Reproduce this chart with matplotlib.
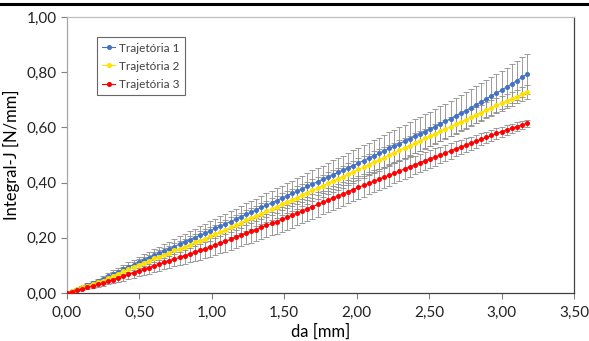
import matplotlib
matplotlib.use("Agg")
import matplotlib.pyplot as plt
from matplotlib.lines import Line2D
from matplotlib.ticker import FuncFormatter

# da [mm]
da = [0.000, 0.035, 0.071, 0.106, 0.141, 0.177, 0.212, 0.247, 0.282, 0.318,
      0.353, 0.388, 0.424, 0.459, 0.494, 0.530, 0.565, 0.600, 0.635, 0.671,
      0.706, 0.741, 0.777, 0.812, 0.847, 0.883, 0.918, 0.953, 0.988, 1.024,
      1.059, 1.094, 1.130, 1.165, 1.200, 1.236, 1.271, 1.306, 1.341, 1.377,
      1.412, 1.447, 1.483, 1.518, 1.553, 1.589, 1.624, 1.659, 1.694, 1.730,
      1.765, 1.800, 1.836, 1.871, 1.906, 1.942, 1.977, 2.012, 2.047, 2.083,
      2.118, 2.153, 2.189, 2.224, 2.259, 2.295, 2.330, 2.365, 2.400, 2.436,
      2.471, 2.506, 2.542, 2.577, 2.612, 2.648, 2.683, 2.718, 2.753, 2.789,
      2.824, 2.859, 2.895, 2.930, 2.965, 3.001, 3.036, 3.071, 3.106, 3.142,
      3.177]

# Integral-J [N/mm]
traj1 = [0.000, 0.007, 0.015, 0.022, 0.029, 0.037, 0.044, 0.051, 0.060, 0.069,
         0.077, 0.086, 0.094, 0.103, 0.112, 0.120, 0.128, 0.136, 0.144, 0.152,
         0.160, 0.168, 0.177, 0.185, 0.193, 0.201, 0.209, 0.217, 0.225, 0.234,
         0.242, 0.251, 0.259, 0.268, 0.276, 0.285, 0.293, 0.301, 0.310, 0.318,
         0.327, 0.335, 0.344, 0.352, 0.361, 0.369, 0.378, 0.386, 0.395, 0.403,
         0.412, 0.420, 0.429, 0.437, 0.445, 0.454, 0.462, 0.471, 0.480, 0.489,
         0.497, 0.506, 0.515, 0.524, 0.532, 0.541, 0.550, 0.559, 0.568, 0.576,
         0.585, 0.594, 0.603, 0.613, 0.622, 0.632, 0.642, 0.651, 0.661, 0.672,
         0.682, 0.693, 0.704, 0.714, 0.725, 0.735, 0.747, 0.758, 0.770, 0.782,
         0.793]
traj2 = [0.000, 0.006, 0.013, 0.020, 0.026, 0.033, 0.039, 0.045, 0.053, 0.062,
         0.070, 0.078, 0.086, 0.094, 0.103, 0.110, 0.117, 0.125, 0.132, 0.139,
         0.146, 0.154, 0.161, 0.168, 0.175, 0.183, 0.190, 0.197, 0.205, 0.213,
         0.221, 0.229, 0.238, 0.246, 0.254, 0.263, 0.271, 0.279, 0.287, 0.296,
         0.304, 0.312, 0.321, 0.329, 0.338, 0.346, 0.355, 0.363, 0.372, 0.380,
         0.389, 0.397, 0.406, 0.414, 0.422, 0.431, 0.439, 0.448, 0.456, 0.465,
         0.474, 0.482, 0.491, 0.500, 0.508, 0.517, 0.526, 0.534, 0.543, 0.551,
         0.560, 0.568, 0.577, 0.586, 0.594, 0.603, 0.611, 0.620, 0.628, 0.637,
         0.645, 0.654, 0.663, 0.671, 0.680, 0.688, 0.696, 0.704, 0.712, 0.720,
         0.728]
traj3 = [0.000, 0.005, 0.010, 0.015, 0.020, 0.025, 0.031, 0.036, 0.042, 0.048,
         0.055, 0.061, 0.067, 0.074, 0.080, 0.086, 0.092, 0.098, 0.104, 0.111,
         0.117, 0.123, 0.129, 0.135, 0.141, 0.148, 0.154, 0.160, 0.166, 0.173,
         0.180, 0.187, 0.195, 0.202, 0.209, 0.216, 0.223, 0.230, 0.238, 0.245,
         0.252, 0.259, 0.267, 0.274, 0.282, 0.290, 0.297, 0.305, 0.313, 0.321,
         0.328, 0.336, 0.344, 0.352, 0.359, 0.367, 0.375, 0.383, 0.390, 0.397,
         0.405, 0.412, 0.420, 0.427, 0.434, 0.442, 0.449, 0.457, 0.464, 0.472,
         0.479, 0.486, 0.493, 0.500, 0.507, 0.515, 0.522, 0.529, 0.536, 0.543,
         0.550, 0.557, 0.564, 0.571, 0.578, 0.585, 0.591, 0.597, 0.603, 0.609,
         0.615]

# desvios (barras de erro)
err1 = [0.000, 0.001, 0.003, 0.004, 0.006, 0.007, 0.008, 0.010, 0.011, 0.013,
        0.014, 0.016, 0.017, 0.018, 0.020, 0.021, 0.022, 0.023, 0.024, 0.025,
        0.026, 0.027, 0.028, 0.029, 0.030, 0.031, 0.033, 0.034, 0.035, 0.035,
        0.036, 0.037, 0.038, 0.038, 0.039, 0.040, 0.041, 0.041, 0.042, 0.043,
        0.043, 0.044, 0.045, 0.045, 0.046, 0.047, 0.047, 0.048, 0.049, 0.049,
        0.050, 0.051, 0.052, 0.052, 0.053, 0.054, 0.055, 0.055, 0.056, 0.056,
        0.057, 0.057, 0.058, 0.058, 0.059, 0.059, 0.060, 0.060, 0.061, 0.061,
        0.062, 0.062, 0.063, 0.063, 0.064, 0.064, 0.065, 0.065, 0.066, 0.066,
        0.067, 0.067, 0.068, 0.068, 0.069, 0.069, 0.070, 0.071, 0.071, 0.072,
        0.073]
err2 = [0.000, 0.001, 0.003, 0.004, 0.006, 0.007, 0.008, 0.010, 0.011, 0.013,
        0.014, 0.016, 0.017, 0.018, 0.020, 0.021, 0.022, 0.023, 0.024, 0.025,
        0.026, 0.027, 0.028, 0.029, 0.030, 0.031, 0.033, 0.034, 0.035, 0.035,
        0.035, 0.036, 0.036, 0.037, 0.037, 0.037, 0.038, 0.038, 0.038, 0.039,
        0.039, 0.040, 0.040, 0.040, 0.040, 0.040, 0.040, 0.040, 0.040, 0.040,
        0.040, 0.040, 0.040, 0.040, 0.040, 0.040, 0.040, 0.040, 0.040, 0.039,
        0.039, 0.039, 0.038, 0.038, 0.037, 0.037, 0.037, 0.036, 0.036, 0.035,
        0.035, 0.035, 0.034, 0.034, 0.033, 0.033, 0.032, 0.031, 0.031, 0.030,
        0.030, 0.029, 0.028, 0.028, 0.027, 0.027, 0.026, 0.026, 0.025, 0.025,
        0.024]
err3 = [0.000, 0.001, 0.003, 0.004, 0.006, 0.007, 0.008, 0.010, 0.011, 0.013,
        0.014, 0.016, 0.017, 0.018, 0.020, 0.021, 0.022, 0.023, 0.024, 0.025,
        0.026, 0.027, 0.028, 0.029, 0.030, 0.031, 0.033, 0.034, 0.035, 0.035,
        0.036, 0.037, 0.038, 0.038, 0.039, 0.040, 0.041, 0.041, 0.042, 0.043,
        0.043, 0.044, 0.045, 0.045, 0.045, 0.045, 0.044, 0.044, 0.044, 0.044,
        0.043, 0.043, 0.043, 0.043, 0.042, 0.042, 0.042, 0.042, 0.041, 0.040,
        0.040, 0.039, 0.038, 0.038, 0.037, 0.036, 0.036, 0.035, 0.034, 0.033,
        0.033, 0.032, 0.031, 0.030, 0.029, 0.028, 0.027, 0.026, 0.025, 0.024,
        0.023, 0.022, 0.021, 0.020, 0.019, 0.018, 0.017, 0.016, 0.015, 0.013,
        0.012]

series = [
    ("Trajetória 1", traj1, err1, "#4472C4"),
    ("Trajetória 2", traj2, err2, "#FFE100"),
    ("Trajetória 3", traj3, err3, "#FF0000"),
]

plt.rcParams['font.family'] = ['Lato', 'DejaVu Sans']

fig = plt.figure(figsize=(5.89, 3.41), dpi=100)
ax = fig.add_axes([0.1138, 0.1408, 0.8607, 0.8092])

# barras de erro primeiro, depois as curvas
for nome, y, e, cor in series:
    ax.errorbar(da, y, yerr=e, fmt='none', ecolor='#8c8c8c', elinewidth=0.6,
                capsize=2, capthick=0.6, zorder=2)
for nome, y, e, cor in series:
    ax.plot(da, y, '-o', color=cor, lw=0.8, markersize=2.6, label=nome, zorder=3)

ax.set_xlim(0, 3.5)
ax.set_ylim(0, 1.0)
ax.set_xticks([0, 0.5, 1.0, 1.5, 2.0, 2.5, 3.0, 3.5])
ax.set_yticks([0, 0.2, 0.4, 0.6, 0.8, 1.0])
virgula = FuncFormatter(lambda v, p: f"{v:.2f}".replace('.', ','))
ax.xaxis.set_major_formatter(virgula)
ax.yaxis.set_major_formatter(virgula)
ax.tick_params(axis='both', labelsize=11, direction='out', length=4,
               width=0.8, color='#808080', labelcolor='#222222')
ax.tick_params(axis='x', pad=5)

ax.set_xlabel("da [mm]", fontsize=12, labelpad=3)
ax.set_ylabel("Integral-J [N/mm]", fontsize=12, labelpad=5)

ax.spines['left'].set_color('#a6a6a6')
ax.spines['top'].set_color('#bfbfbf')
ax.spines['bottom'].set_color('#404040')
ax.spines['right'].set_color('#404040')
for s in ax.spines.values():
    s.set_linewidth(0.9)

leg = ax.legend(loc='upper left', bbox_to_anchor=(0.059, 0.927), fontsize=8.5,
                frameon=True, fancybox=False, handlelength=1.1, handletextpad=0.3,
                labelspacing=0.6, borderpad=0.45, borderaxespad=0,
                labelcolor='#404040')
leg.get_frame().set_edgecolor('#404040')
leg.get_frame().set_linewidth(0.8)

# linha grossa no topo da imagem
fig.add_artist(Line2D([0, 1], [0.987, 0.987], color='black', lw=2.2))

fig.savefig("out.png", dpi=100)
